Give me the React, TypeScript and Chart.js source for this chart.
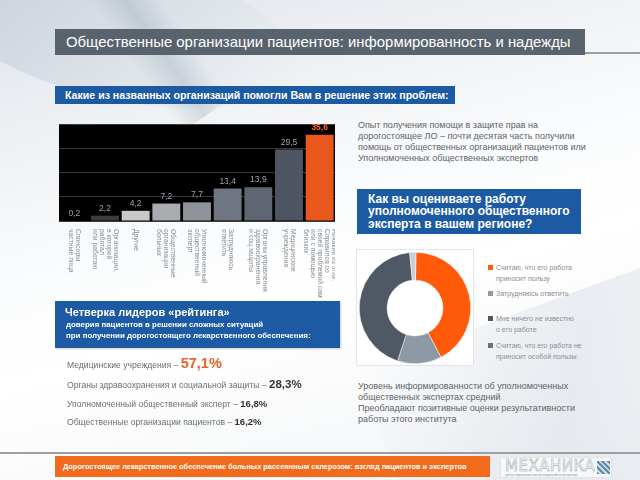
import React, { useEffect, useRef } from "react";
import { Chart, registerables } from "chart.js";

Chart.register(...registerables);

// ---- Data ----
const barCategories: string[][] = [
  ["Спонсоры", "частные лица"],
  ["Организации,", "в которой", "работал", "или работаю"],
  ["Другие"],
  ["Общественные", "организации", "больных"],
  ["Уполномоченный", "общественный", "эксперт"],
  ["Затрудняюсь", "ответить"],
  ["Органы управления", "здравоохранения", "и соц.защиты"],
  ["Медицинские", "учреждения"],
  ["Никакие из этих.", "Справился со", "своей проблемой сам", "или с помощью", "близких"],
];
const barValues = [0.2, 2.2, 4.2, 7.2, 7.7, 13.4, 13.9, 29.5, 35.6];
const barValueLabels = ["0,2", "2,2", "4,2", "7,2", "7,7", "13,4", "13,9", "29,5", "35,6"];
const barColors = ["#262626", "#3c3c3c", "#c9c9c9", "#a9acb0", "#8f949b", "#6f7681", "#5f6671", "#4e5663", "#e8581c"];

const donutLabels = [
  ["Считаю, что его работа", "приносит пользу"],
  ["Затрудняюсь ответить"],
  ["Мне ничего не известно", "о его работе"],
  ["Считаю, что его работа не", "приносит особой пользы"],
];
const donutValues = [42.0, 12.8, 43.4, 1.8];
const donutColors = ["#ff5a0a", "#8d99a4", "#4f5966", "#c8ced4"];
const legendMarkerColors = ["#ff5a0a", "#8d99a4", "#4f5966", "#6a717a"];

const leaders = [
  { text: "Медицинские учреждения – ", value: "57,1%", size: 14.5, color: "#e8622a", top: 354 },
  { text: "Органы здравоохранения и социальной защиты – ", value: "28,3%", size: 11.5, color: "#333", top: 375 },
  { text: "Уполномоченный общественный эксперт – ", value: "16,8%", size: 9.5, color: "#333", top: 395 },
  { text: "Общественные организации пациентов – ", value: "16,2%", size: 9.5, color: "#333", top: 413 },
];

const FONT = '"Liberation Sans", Arial, sans-serif';

function BarChart() {
  const ref = useRef<HTMLCanvasElement>(null);
  useEffect(() => {
    const bgPlugin = {
      id: "bg",
      beforeDraw(chart: any) {
        const { ctx, chartArea } = chart;
        ctx.save();
        ctx.fillStyle = "#000";
        ctx.fillRect(chartArea.left, chartArea.top, chartArea.right - chartArea.left, chartArea.bottom - chartArea.top);
        ctx.restore();
      },
    };
    const labelPlugin = {
      id: "lbls",
      afterDraw(chart: any) {
        const { ctx, chartArea } = chart;
        const xs = chart.scales.x;
        const ys = chart.scales.y;
        ctx.save();
        barValues.forEach((v, i) => {
          const px = xs.getPixelForValue(i);
          const py = ys.getPixelForValue(v);
          const last = i === barValues.length - 1;
          ctx.fillStyle = last ? "#ff6a1f" : "#9ea3a9";
          ctx.font = (last ? "bold " : "") + "8.5px " + FONT;
          ctx.textAlign = "center";
          ctx.textBaseline = "bottom";
          ctx.fillText(barValueLabels[i], px, py - 3);
          const lines = barCategories[i];
          const n = lines.length;
          ctx.save();
          ctx.translate(px, chartArea.bottom + 8);
          ctx.rotate(Math.PI / 2);
          ctx.font = "6.8px " + FONT;
          ctx.fillStyle = "#858a90";
          ctx.textAlign = "left";
          ctx.textBaseline = "middle";
          lines.forEach((l, j) => {
            ctx.fillText(l, 0, (j - (n - 1) / 2) * 7);
          });
          ctx.restore();
        });
        ctx.restore();
      },
    };
    const chart = new Chart(ref.current!, {
      type: "bar",
      data: {
        labels: barCategories.map((c) => c.join(" ")),
        datasets: [
          {
            data: barValues,
            backgroundColor: barColors,
            barPercentage: 0.91,
            categoryPercentage: 1,
            borderWidth: 0,
          },
        ],
      },
      options: {
        animation: false,
        responsive: false,
        maintainAspectRatio: false,
        layout: { padding: { left: 0, right: 0, top: 9, bottom: 84 } },
        plugins: { legend: { display: false }, tooltip: { enabled: false } },
        scales: {
          x: { display: false },
          y: {
            display: true,
            min: 0,
            max: 40,
            ticks: { display: false, stepSize: 10 },
            grid: { color: "#3a3a3a", drawTicks: false, lineWidth: 1 },
            border: { display: false },
          },
        },
      },
      plugins: [bgPlugin, labelPlugin],
    });
    return () => chart.destroy();
  }, []);
  return (
    <canvas
      ref={ref}
      width={276}
      height={190}
      style={{ position: "absolute", left: 59, top: 115, width: 276, height: 190 }}
    />
  );
}

function DonutChart() {
  const ref = useRef<HTMLCanvasElement>(null);
  useEffect(() => {
    const chart = new Chart(ref.current!, {
      type: "doughnut",
      data: {
        labels: donutLabels.map((l) => l.join(" ")),
        datasets: [
          {
            data: donutValues,
            backgroundColor: donutColors,
            borderWidth: 0.5,
            borderColor: "#ffffff",
          },
        ],
      },
      options: {
        animation: false,
        responsive: false,
        maintainAspectRatio: false,
        cutout: "50%",
        rotation: 1,
        layout: { padding: 2 },
        plugins: { legend: { display: false }, tooltip: { enabled: false } },
      },
    });
    return () => chart.destroy();
  }, []);
  return (
    <canvas
      ref={ref}
      width={116}
      height={116}
      style={{ position: "absolute", left: 357, top: 250, width: 116, height: 116 }}
    />
  );
}

export default function App() {
  useEffect(() => {
    document.body.style.margin = "0";
  }, []);
  const abs = (s: React.CSSProperties): React.CSSProperties => ({ position: "absolute", ...s });
  return (
    <div
      style={{
        position: "relative",
        width: 640,
        height: 480,
        overflow: "hidden",
        fontFamily: FONT,
        background: "linear-gradient(165deg, #dfe4ea 0%, #eef1f4 22%, #fbfcfd 45%, #ffffff 60%, #f1f3f5 100%)",
      }}
    >
      {/* background swooshes */}
      <div style={abs({ left: -60, top: -40, width: 360, height: 140, background: "linear-gradient(100deg, rgba(170,182,196,0.4), rgba(255,255,255,0))", transform: "rotate(12deg)", borderRadius: "50%" })} />
      <div style={abs({ left: 130, top: -30, width: 60, height: 160, background: "linear-gradient(90deg, rgba(255,255,255,0), rgba(150,165,180,0.35), rgba(255,255,255,0))", transform: "rotate(-35deg)" })} />
      <div style={abs({ left: 380, top: 300, width: 380, height: 200, background: "linear-gradient(120deg, rgba(255,255,255,0), rgba(220,225,232,0.6), rgba(255,255,255,0))", transform: "rotate(-20deg)" })} />

      {/* title bar */}
      <div style={abs({ left: 585, top: 52, width: 60, height: 2, background: "#9aa0a6" })} />
      <div
        style={abs({
          left: 55,
          top: 29,
          width: 530,
          height: 26,
          background: "#59636e",
          color: "#fff",
          fontSize: 14.9,
          lineHeight: "26px",
          paddingLeft: 11,
          boxSizing: "border-box",
          whiteSpace: "nowrap",
        })}
      >
        Общественные организации пациентов: информированность и надежды
      </div>

      {/* subtitle */}
      <div
        style={abs({
          left: 55,
          top: 86,
          width: 400,
          height: 18,
          background: "#1d5aa4",
          color: "#fff",
          fontSize: 10.6,
          fontWeight: "bold",
          lineHeight: "18px",
          paddingLeft: 10,
          boxSizing: "border-box",
          whiteSpace: "nowrap",
        })}
      >
        Какие из названных организаций помогли Вам в решение этих проблем:
      </div>

      <BarChart />

      {/* right text */}
      <div style={abs({ left: 358, top: 120, fontSize: 9, lineHeight: "11px", color: "#5f6368", whiteSpace: "nowrap" })}>
        Опыт получения помощи в защите прав на
        <br />
        дорогостоящее ЛО – почти десятая часть получили
        <br />
        помощь от общественных организаций пациентов или
        <br />
        Уполномоченных общественных экспертов
      </div>

      {/* donut question */}
      <div
        style={abs({
          left: 357,
          top: 189,
          width: 224,
          height: 45,
          background: "#1d5aa4",
          color: "#fff",
          fontSize: 12,
          fontWeight: "bold",
          lineHeight: "12.3px",
          padding: "4px 0 0 11px",
          boxSizing: "border-box",
          whiteSpace: "nowrap",
        })}
      >
        Как вы оцениваете работу
        <br />
        уполномоченного общественного
        <br />
        эксперта в вашем регионе?
      </div>

      {/* donut box */}
      <div style={abs({ left: 356, top: 249, width: 118, height: 117, background: "#fff", border: "1px solid #e2e5e8", boxSizing: "border-box" })} />
      <DonutChart />

      {/* donut legend */}
      {donutLabels.map((lines, i) => {
        const tops = [262, 288, 313, 340];
        return (
          <div key={i} style={abs({ left: 488, top: tops[i], fontSize: 7, lineHeight: "11px", color: "#8a8f95", whiteSpace: "nowrap" })}>
            <span style={{ display: "inline-block", width: 5, height: 5, background: legendMarkerColors[i], marginRight: 3 }} />
            {lines[0]}
            {lines[1] ? (
              <>
                <br />
                <span style={{ paddingLeft: 8 }}>{lines[1]}</span>
              </>
            ) : null}
          </div>
        );
      })}

      {/* donut text */}
      <div style={abs({ left: 358, top: 381, fontSize: 9, lineHeight: "11px", color: "#5f6368", whiteSpace: "nowrap" })}>
        Уровень информированности об уполномоченных
        <br />
        общественных экспертах средний
        <br />
        Преобладают позитивные оценки результативности
        <br />
        работы этого института
      </div>

      {/* leaders box */}
      <div
        style={abs({
          left: 55,
          top: 301,
          width: 285,
          height: 47,
          background: "#1d5aa4",
          color: "#fff",
          padding: "4px 0 0 10px",
          boxSizing: "border-box",
          whiteSpace: "nowrap",
          boxShadow: "1px 1px 2px rgba(0,0,0,0.2)",
        })}
      >
        <div style={{ fontSize: 11, fontWeight: "bold", lineHeight: "14px" }}>Четверка лидеров «рейтинга»</div>
        <div style={{ fontSize: 7.9, fontWeight: "bold", lineHeight: "11px", paddingLeft: 1 }}>
          доверия пациентов в решении сложных ситуаций
          <br />
          при получении дорогостоящего лекарственного обеспечения:
        </div>
      </div>

      {leaders.map((l, i) => (
        <div key={i} style={abs({ left: 67, top: l.top, fontSize: 8.6, color: "#6a6f75", whiteSpace: "nowrap", lineHeight: "18px" })}>
          {l.text}
          <span style={{ fontSize: l.size, fontWeight: "bold", color: l.color }}>{l.value}</span>
        </div>
      ))}

      {/* footer */}
      <div style={abs({ left: 0, top: 452, width: 640, height: 2, background: "#9a9fa5" })} />
      <div
        style={abs({
          left: 55,
          top: 456,
          width: 435,
          height: 21,
          background: "#f26a1b",
          color: "#fff",
          fontSize: 7.4,
          fontWeight: "bold",
          lineHeight: "21px",
          paddingLeft: 8,
          boxSizing: "border-box",
          whiteSpace: "nowrap",
        })}
      >
        Дорогостоящее лекарственное обеспечение больных рассеянным склерозом: взгляд пациентов и экспертов
      </div>
      <div style={abs({ left: 500, top: 457, width: 112, height: 21, background: "#f7f8f9", border: "1px solid #e3e6e9", boxSizing: "border-box" })}>
        <div style={abs({ left: 4, top: 1, fontSize: 15, letterSpacing: 0.5, color: "#fff", WebkitTextStroke: "0.5px #9aa1a8", fontFamily: '"DejaVu Sans", sans-serif', lineHeight: "15px" })}>
          МЕХАНИКА
        </div>
        <div style={abs({ left: 4, top: 15, fontSize: 3, color: "#8c949c", whiteSpace: "nowrap" })}>центр социологических исследований и экспертизы</div>
        <div style={abs({ left: 96, top: 3, width: 13, height: 13, background: "repeating-linear-gradient(45deg, #5f8fa8 0 2px, #c9d8e2 2px 4px)" })} />
      </div>
    </div>
  );
}
